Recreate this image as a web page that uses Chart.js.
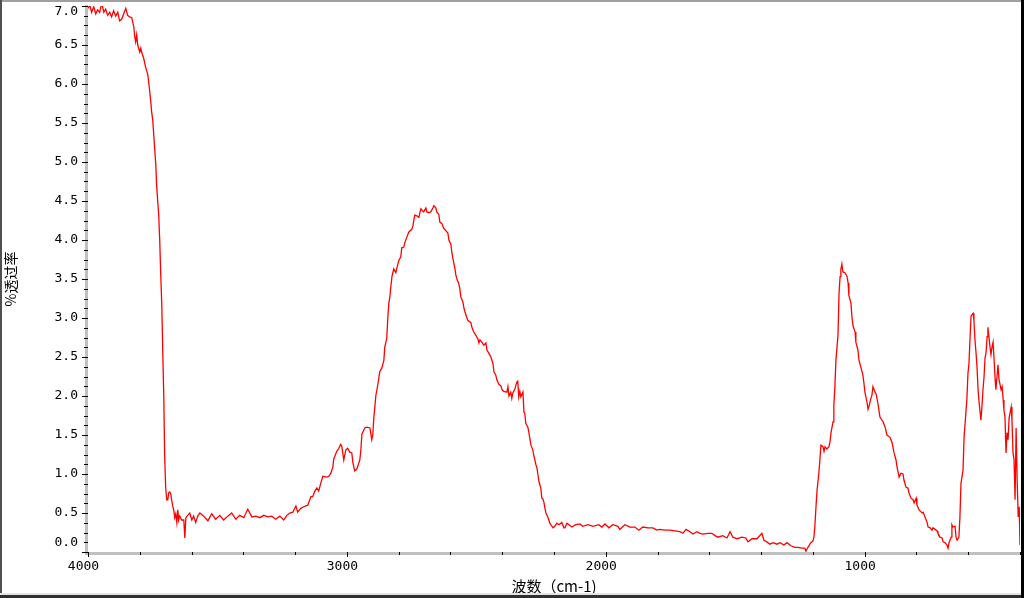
<!DOCTYPE html>
<html>
<head>
<meta charset="utf-8">
<script src="https://cdn.jsdelivr.net/npm/chart.js@4/dist/chart.umd.min.js"></script>
<style>
html,body{margin:0;padding:0;background:#fff;overflow:hidden}
canvas{display:block}
</style>
</head>
<body>
<canvas id="ir" width="1024" height="598"></canvas>
<script>
// wavenumber (cm-1)
const wavenumbers=[
4000,3993,3986,3978,3970,3963,3955,3947,3939,3932,
3924,3916,3909,3901,3893,3885,3878,3870,3862,3854,
3847,3839,3831,3823,3820,3816,3812,3808,3800,3796,
3793,3785,3777,3769,3762,3758,3754,3750,3742,3738,
3735,3731,3727,3723,3719,3715,3711,3707,3704,3700,
3696,3692,3688,3684,3680,3677,3673,3669,3665,3661,
3657,3653,3650,3646,3638,3630,3626,3622,3615,3607,
3599,3592,3584,3576,3568,
3553,3537,3522,3507,3491,3476,3460,3445,3429,3414,
3398,3383,3367,3352,3336,3321,3306,3290,3275,3259,
3244,3232,3221,3209,3197,3190,3178,3167,3151,3139,
3132,3124,3116,3109,3101,3093,3078,3070,3062,3054,
3051,3039,3031,3024,3020,3016,3012,3004,2997,2989,
2981,2977,2970,2962,2958,2950,2946,2942,2931,2923,
2911,2904,2900,2896,2892,2888,2884,2877,2873,2865,
2857,2854,2846,2842,2838,2834,2830,2826,2819,2811,
2807,2799,2792,2788,2780,2776,2768,2761,2749,2745,
2738,2730,2722,2718,2714,2707,2703,2695,2691,2683,
2676,2668,2664,2656,2653,2645,2641,2633,2626,2618,
2610,2606,2598,2595,2591,2583,2579,2575,2568,2564,
2560,2552,2548,2544,2537,2533,2521,2517,2510,2502,
2494,2490,2486,2479,2471,2463,2459,2452,2444,2436,
2432,2425,2421,2413,2405,2401,2394,2382,2378,2374,
2367,2363,2359,2351,2347,2343,2340,2336,2332,2328,
2320,2316,2313,2309,2301,2297,2293,2289,2282,2278,
2274,2270,2266,2262,2258,2251,2247,2243,2239,2235,
2231,2224,2220,2216,2208,2204,2197,2189,2181,2173,
2170,2162,2158,2150,2142,
2131,2116,2100,2089,2069,2050,2027,2015,2003,1988,
1973,1953,1946,1926,1907,1888,1872,1857,1837,1818,
1803,1791,1772,1752,1733,1714,1702,1690,1675,1663,
1648,1636,1625,1605,1590,1578,1567,1548,1532,1520,
1509,1493,1474,1459,1451,1435,1416,1397,1389,1378,
1366,1354,1339,1327,1312,1300,1285,1269,1258,1242,
1231,1227,1219,1208,1200,1196,1192,1188,1184,1177,
1173,1169,1161,1157,1153,1146,1138,1134,1130,1122,
1119,1115,1111,1103,1099,1095,1092,1088,1084,1076,
1068,1064,1061,1053,1049,1045,1037,1034,1026,1022,
1014,1007,1003,999,991,987,983,976,972,968,
960,956,949,945,941,929,921,914,902,894,
887,879,875,867,860,852,848,840,833,829,
821,813,809,801,798,790,778,774,767,759,
755,747,740,736,728,720,717,709,701,697,
690,682,678,674,666,663,659,651,647,643,
636,632,628,620,616,612,605,601,597,593,
589,581,578,574,570,566,562,558,551,547,
543,539,535,531,527,524,520,516,512,508,
504,500,496,493,489,485,481,473,469,465,
462,458,454,450,446,442,434,431,427,423,
419,415,411,407,403,400
];
// %transmittance at each wavenumber
const transmittance=[
6.97,7.01,6.92,6.99,6.90,6.95,6.92,7.04,6.92,6.96,
6.88,6.92,6.86,6.94,6.87,6.92,6.81,6.83,6.90,6.97,
6.88,6.86,6.85,6.73,6.62,6.54,6.63,6.50,6.41,6.46,
6.41,6.33,6.21,6.12,5.92,5.79,5.64,5.54,5.15,4.96,
4.71,4.51,4.33,4.00,3.55,3.17,2.53,1.95,1.24,0.83,
0.67,0.67,0.76,0.77,0.74,0.67,0.59,0.54,0.44,0.49,
0.38,0.54,0.41,0.46,0.41,0.41,0.18,0.44,0.47,0.50,
0.41,0.46,0.38,0.46,0.50,
0.46,0.40,0.49,0.42,0.47,0.41,0.46,0.50,0.42,0.47,
0.44,0.55,0.45,0.46,0.44,0.47,0.45,0.46,0.42,0.46,
0.41,0.47,0.50,0.51,0.59,0.51,0.56,0.58,0.60,0.71,
0.71,0.78,0.82,0.78,0.88,0.97,0.96,0.97,1.01,1.09,
1.19,1.29,1.33,1.38,1.36,1.27,1.18,1.31,1.33,1.28,
1.27,1.15,1.04,1.06,1.10,1.18,1.31,1.51,1.59,1.60,
1.59,1.44,1.50,1.72,1.86,2.01,2.08,2.22,2.31,2.36,
2.46,2.62,2.74,3.00,3.19,3.27,3.41,3.53,3.63,3.58,
3.64,3.74,3.78,3.90,3.91,3.97,4.04,4.10,4.14,4.18,
4.32,4.31,4.29,4.35,4.40,4.37,4.36,4.41,4.36,4.35,
4.36,4.41,4.44,4.41,4.36,4.33,4.23,4.21,4.15,4.12,
4.09,4.00,3.94,3.85,3.77,3.64,3.55,3.50,3.44,3.38,
3.27,3.21,3.13,3.08,3.01,2.97,2.94,2.88,2.82,2.78,
2.73,2.68,2.72,2.69,2.65,2.68,2.59,2.55,2.50,2.42,
2.31,2.27,2.21,2.15,2.13,2.08,2.06,2.05,2.12,2.00,
2.05,1.97,2.04,2.09,2.14,2.18,2.19,1.99,2.06,1.99,
2.05,1.79,1.78,1.65,1.60,1.53,1.45,1.37,1.31,1.24,
1.18,1.12,1.08,0.99,0.90,0.82,0.69,0.68,0.64,0.56,
0.50,0.45,0.41,0.37,0.33,0.31,0.33,0.37,0.35,0.37,
0.38,0.31,0.31,0.37,0.35,
0.32,0.35,0.36,0.33,0.35,0.33,0.35,0.32,0.36,0.31,
0.35,0.33,0.29,0.35,0.32,0.32,0.28,0.32,0.31,0.31,
0.28,0.29,0.28,0.28,0.27,0.26,0.24,0.29,0.26,0.23,
0.26,0.24,0.23,0.24,0.24,0.21,0.19,0.21,0.18,0.26,
0.19,0.17,0.19,0.18,0.13,0.17,0.17,0.24,0.15,0.13,
0.10,0.12,0.10,0.12,0.09,0.12,0.08,0.06,0.06,0.05,
0.05,0.01,0.06,0.12,0.14,0.19,0.35,0.58,0.79,1.01,
1.18,1.37,1.35,1.29,1.35,1.32,1.35,1.41,1.53,1.67,
1.88,2.12,2.46,2.78,3.32,3.53,3.62,3.69,3.59,3.58,
3.53,3.45,3.29,3.19,3.01,2.90,2.82,2.69,2.59,2.46,
2.36,2.27,2.17,2.05,1.92,1.83,1.87,1.97,2.01,2.12,
2.05,2.03,1.91,1.82,1.73,1.67,1.60,1.50,1.47,1.40,
1.28,1.18,1.09,0.96,1.01,1.00,0.92,0.83,0.82,0.76,
0.69,0.67,0.63,0.69,0.60,0.54,0.50,0.51,0.45,0.38,
0.32,0.31,0.28,0.31,0.29,0.27,0.24,0.19,0.18,0.13,
0.12,0.09,0.05,0.12,0.19,0.35,0.32,0.33,0.19,0.15,
0.19,0.45,0.88,1.05,1.47,1.65,1.97,2.29,2.42,2.74,
3.03,3.06,2.97,2.72,2.56,2.37,2.08,1.92,1.69,1.86,
2.08,2.24,2.49,2.56,2.76,2.88,2.76,2.63,2.53,2.63,
2.69,2.46,2.21,2.08,2.24,2.40,2.21,2.08,2.12,1.95,
1.82,1.73,1.27,1.53,1.44,1.72,1.86,1.69,1.27,1.18,
0.67,1.59,0.92,0.45,0.58,0.09
];
const xTickLabels=[4000,3000,2000,1000];
const yTickLabels=['0.0','0.5','1.0','1.5','2.0','2.5','3.0','3.5','4.0','4.5','5.0','5.5','6.0','6.5','7.0'];
const xTitle='波数（cm-1)';
const yTitle='%透过率';

const tickFont='13px "DejaVu Sans Mono", monospace';

// gray axis bands under the curve
const axisBands={
  id:'axisBands',
  beforeDatasetsDraw(chart){
    const c=chart.ctx, a=chart.chartArea;
    c.save();
    c.fillStyle='#c0c0c0';
    c.fillRect(a.left-3,a.top-1,3,a.bottom-a.top+4);
    c.fillRect(a.left-3,a.bottom,a.right-a.left+3,3);
    c.restore();
  }
};

// ticks, labels, titles and window frame
const axisDecor={
  id:'axisDecor',
  afterDraw(chart){
    const c=chart.ctx, a=chart.chartArea, xs=chart.scales.x, ys=chart.scales.y;
    c.save();
    c.fillStyle='#000';
    for(let v=4000;v>=400;v-=200){
      const px=Math.round(xs.getPixelForValue(v));
      c.fillRect(px,a.bottom,1,v%1000===0?5:3);
    }
    for(let k=0;k<=56;k++){
      const py=Math.round(ys.getPixelForValue(k*0.125));
      if(k%4===0) c.fillRect(a.left-6,py,6,1); else c.fillRect(a.left-4,py,4,1);
    }
    c.font=tickFont; c.fillStyle='#000';
    c.textAlign='center'; c.textBaseline='middle';
    xTickLabels.forEach(v=>{ c.fillText(String(v),xs.getPixelForValue(v)-4.5,567); });
    c.textAlign='right';
    yTickLabels.forEach(t=>{
      let py=ys.getPixelForValue(parseFloat(t));
      py=Math.min(Math.max(py,a.top+6),a.bottom-9);
      c.fillText(t,78,py);
    });
    c.textAlign='center';
    c.font='15px "Noto Sans CJK SC"';
    c.fillText(xTitle,(a.left+a.right)/2,586);
    c.save();
    c.translate(11,(a.top+a.bottom)/2);
    c.rotate(-Math.PI/2);
    c.font='14px "Noto Sans CJK SC"';
    c.fillText(yTitle,0,0);
    c.restore();
    // frame
    c.fillStyle='#a0a0a0'; c.fillRect(0,0,1021,2);
    c.fillStyle='#505050'; c.fillRect(0,0,2,598);
    c.fillStyle='#e4e4e4'; c.fillRect(0,593,1024,2);
    c.fillStyle='#303030'; c.fillRect(0,595,1024,3);
    c.fillStyle='#000'; c.fillRect(1021,0,3,598);
    c.restore();
  }
};

new Chart(document.getElementById('ir'),{
  type:'line',
  data:{datasets:[{
    data:wavenumbers.map((w,i)=>({x:w,y:transmittance[i]})),
    borderColor:'#ff0000',borderWidth:1.3,pointRadius:0,tension:0,fill:false
  }]},
  options:{
    responsive:false,animation:false,devicePixelRatio:1,events:[],
    layout:{padding:{left:88,top:6,right:4,bottom:46}},
    plugins:{legend:{display:false},tooltip:{enabled:false}},
    scales:{
      x:{type:'linear',reverse:true,min:400,max:4000,display:false},
      y:{type:'linear',min:0,max:7,display:false}
    }
  },
  plugins:[axisBands,axisDecor]
});
</script>
</body>
</html>
